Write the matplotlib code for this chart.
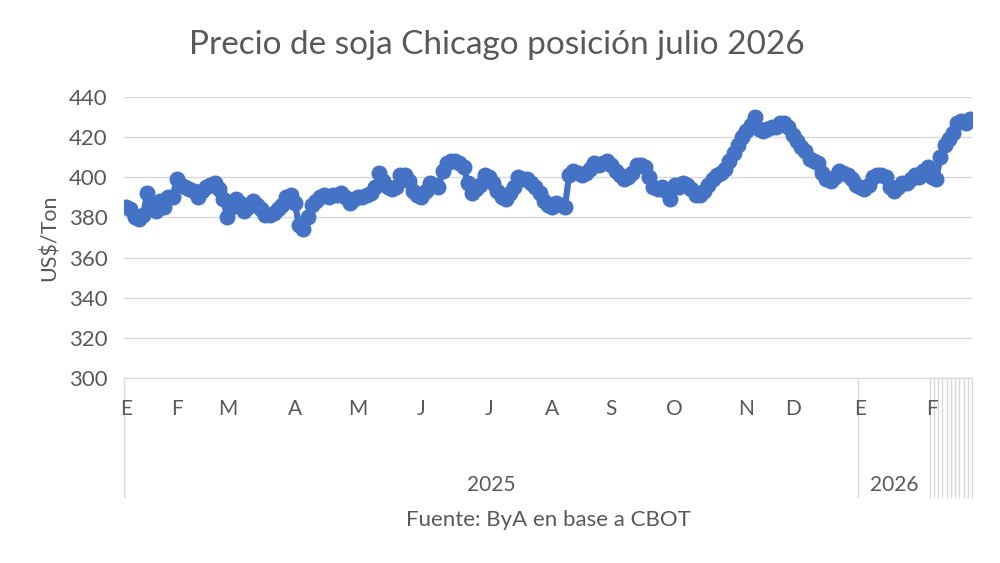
import matplotlib
matplotlib.use("Agg")
import matplotlib.pyplot as plt
import numpy as np

plt.rcParams['font.family'] = ['Lato', 'DejaVu Sans']

# Precio diario (US$/Ton) por mes, posición julio 2026
ene25 = [385, 384, 380, 379, 381, 392, 386, 383, 388, 385, 390, 390]
feb25 = [399, 396, 395, 394, 393, 390, 393, 395, 396, 397, 394, 389]
mar25 = [380, 385, 389, 387, 383, 385, 388, 386, 384, 381, 381, 382, 384, 386, 390, 391]
abr25 = [387, 376, 374, 380, 386, 388, 390, 391, 390, 391, 391, 392, 390, 387, 389]
may25 = [390, 390, 391, 392, 395, 402, 398, 395, 394, 395, 401, 401, 398, 393, 391]
jun25 = [390, 393, 397, 396, 395, 403, 407, 408, 408, 407, 405, 397, 392, 394, 396, 401]
jul25 = [400, 397, 393, 390, 389, 392, 395, 400, 399, 399, 397, 395, 392, 388, 386]
ago25 = [385, 387, 386, 385, 401, 403, 402, 401, 402, 404, 407, 406, 407, 408]
sep25 = [406, 403, 401, 399, 400, 402, 406, 406, 405, 400, 395, 394, 395, 393, 389]
oct25 = [396, 395, 397, 396, 394, 391, 391, 393, 396, 399, 401, 402, 404, 408, 412, 416, 420]
nov25 = [423, 426, 430, 424, 423, 424, 425, 425, 427, 427, 425]
dic25 = [421, 418, 415, 413, 409, 408, 407, 402, 399, 398, 400, 403, 402, 401, 399, 396]
ene26 = [395, 394, 396, 400, 401, 401, 400, 395, 393, 395, 397, 397, 399, 401, 400, 403, 405]
feb26 = [400, 399, 410, 416, 419, 422, 427, 428, 427, 429]

meses = [ene25, feb25, mar25, abr25, may25, jun25, jul25,
         ago25, sep25, oct25, nov25, dic25, ene26, feb26]
letras = ['E', 'F', 'M', 'A', 'M', 'J', 'J', 'A', 'S', 'O', 'N', 'D', 'E', 'F']
anios = ['2025', '2026']

precios = np.concatenate(meses)
n = len(precios)
inicio_mes = np.cumsum([0] + [len(m) for m in meses[:-1]])

gris = '#595959'
linea = '#d9d9d9'
azul = '#4472C4'

fig = plt.figure(figsize=(10, 5.63), dpi=100)
ax = fig.add_axes([0.124, 0.3286, 0.848, 0.4991])

x = np.arange(n)
ax.plot(x, precios, color=azul, lw=4.5, marker='o', ms=10.5, zorder=3)

ax.set_xlim(-0.5, n - 0.5)
ax.set_ylim(300, 440)
ax.set_yticks(range(300, 441, 20))
ax.tick_params(axis='y', length=0, labelsize=16, labelcolor=gris, pad=12)
ax.set_xticks([])
ax.grid(axis='y', color=linea, lw=1)
ax.set_axisbelow(True)
for s in ['top', 'right', 'left']:
    ax.spines[s].set_visible(False)
ax.spines['bottom'].set_color(linea)

ax.set_ylabel('US$/Ton', fontsize=15.5, color=gris, labelpad=6)

# Etiquetas de meses
trans = ax.get_xaxis_transform()
for i, l in zip(inicio_mes, letras):
    ax.text(i, -0.11, l, transform=trans, ha='center', va='center',
            fontsize=15, color=gris)

# Divisiones del eje de categorías
fondo = -0.4235
corte_anio = inicio_mes[12] - 0.5
divisiones = [-0.5, corte_anio] + list(np.arange(inicio_mes[13], n + 1) - 0.5)
for d in divisiones:
    ax.plot([d, d], [0, fondo], transform=trans, color=linea, lw=1,
            clip_on=False)

ax.text((-0.5 + corte_anio) / 2, -0.381, anios[0], transform=trans,
        ha='center', va='center', fontsize=15, color=gris)
ax.text((corte_anio + inicio_mes[13] - 0.5) / 2, -0.381, anios[1],
        transform=trans, ha='center', va='center', fontsize=15, color=gris)

fig.text(0.497, 0.92, 'Precio de soja Chicago posición julio 2026',
         ha='center', va='center', fontsize=24, color=gris)
fig.text(0.548, 0.076, 'Fuente: ByA en base a CBOT', ha='center',
         va='center', fontsize=16, color=gris)

fig.savefig('out.png', dpi=100)
